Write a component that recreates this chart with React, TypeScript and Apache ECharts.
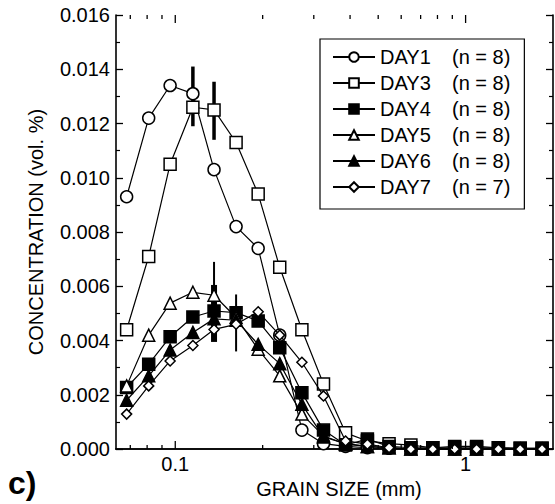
import React, { useEffect, useRef } from "react";
import * as echarts from "echarts";

const FONT = "'Liberation Sans', Arial, Helvetica, sans-serif";

// grain size class midpoints (mm), quarter-phi bins
const grainSizes = [0.068, 0.081, 0.096, 0.115, 0.136, 0.162, 0.193, 0.229, 0.273, 0.324, 0.386, 0.459, 0.545, 0.648, 0.771, 0.917, 1.091, 1.297, 1.542, 1.834];

const seriesNames = ["DAY1", "DAY3", "DAY4", "DAY5", "DAY6", "DAY7"];
const sampleCounts = [8, 8, 8, 8, 8, 7];

const day1 = [0.0093, 0.0122, 0.0134, 0.0131, 0.0103, 0.0082, 0.0074, 0.0042, 0.0007, 0.0002, 0.0001, 0.00005, 0.00003, 0, 0, 0, 0, 0, 0, 0];
const day3 = [0.0044, 0.0071, 0.0105, 0.0126, 0.0125, 0.0113, 0.0094, 0.0067, 0.0044, 0.0024, 0.0006, 0.0003, 0.0002, 0.00015, 0.00005, 0.0001, 0.0001, 0.00005, 0.00003, 0.00003];
const day4 = [0.00227, 0.00313, 0.00414, 0.00487, 0.00509, 0.00503, 0.00472, 0.00374, 0.00208, 0.0007, 0.00015, 0.00037, 0.0001, 0.00005, 0.00005, 0.00005, 0.00005, 0.00005, 0.00003, 0.00003];
const day5 = [0.00233, 0.0042, 0.00538, 0.00578, 0.00567, 0.00485, 0.00368, 0.0027, 0.00129, 0.00049, 0.00018, 0.0001, 0.00005, 0, 0, 0, 0, 0, 0, 0];
const day6 = [0.0018, 0.0027, 0.00365, 0.0043, 0.0048, 0.00475, 0.00386, 0.00315, 0.00165, 0.00045, 0.0002, 0.0001, 0.00005, 0, 0, 0, 0, 0, 0, 0];
const day7 = [0.00129, 0.00233, 0.00325, 0.00382, 0.00441, 0.0046, 0.00506, 0.0042, 0.0032, 0.00196, 0.0003, 0.00018, 0.00005, 0, 0, 0, 0, 0, 0, 0];

// error bars: [bin index, centre, half range]
const errorBarsThin = [[4, 0.0056, 0.0013], [5, 0.00465, 0.00105]];
const errorBarsMedium = [[3, 0.0130, 0.0011], [4, 0.01247, 0.00107]];
const errorBarsThick = [[4, 0.0050, 0.00105]];

const xMajorTicks = [0.1, 1];
const xMinorTicks = [0.07, 0.08, 0.09, 0.2, 0.3, 0.4, 0.5, 0.6, 0.7, 0.8, 0.9];

const X_MIN = 0.0625;
const X_MAX = 2;
const Y_MIN = 0;
const Y_MAX = 0.016;

const seriesValues = [day1, day3, day4, day5, day6, day7];
const symbols = ["circle", "rect", "rect", "triangle", "triangle", "diamond"];
const fills = ["#fff", "#fff", "#000", "#fff", "#000", "#fff"];
const sizes = [12, 12, 12, 12, 12, 10];

function errorBarSeries(bars: number[][], w: number) {
  return {
    type: "custom",
    silent: true,
    clip: false,
    z: 1,
    data: bars.map(([k, c, h]) => [grainSizes[k], c - h, c + h]),
    encode: { x: 0, y: [1, 2] },
    renderItem: (params: any, api: any) => {
      const x = api.value(0);
      const lo = api.value(1);
      const hi = api.value(2);
      const p1 = api.coord([x, hi]);
      const p2 = api.coord([x, lo]);
      return {
        type: "rect",
        shape: { x: p1[0] - w / 2, y: p1[1], width: w, height: p2[1] - p1[1] },
        style: { fill: "#000" },
      };
    },
  };
}

function tickSeries(values: number[], len: number) {
  return {
    type: "custom",
    silent: true,
    clip: false,
    z: 5,
    data: values.map((v) => [v, Y_MIN]),
    encode: { x: 0, y: 1 },
    renderItem: (params: any, api: any) => {
      const v = api.value(0);
      const b = api.coord([v, Y_MIN]);
      const t = api.coord([v, Y_MAX]);
      return {
        type: "group",
        children: [
          { type: "line", shape: { x1: b[0], y1: b[1], x2: b[0], y2: b[1] - len }, style: { stroke: "#000", lineWidth: 1.3 } },
          { type: "line", shape: { x1: t[0], y1: t[1], x2: t[0], y2: t[1] + len }, style: { stroke: "#000", lineWidth: 1.3 } },
        ],
      };
    },
  };
}

export default function App() {
  const ref = useRef<HTMLDivElement>(null);
  useEffect(() => {
    if (!ref.current) return;
    const chart = echarts.init(ref.current, undefined, { renderer: "svg" });
    const lineSeries = seriesNames.map((name, i) => ({
      name,
      type: "line",
      data: grainSizes.map((x, j) => [x, seriesValues[i][j]]),
      symbol: symbols[i],
      symbolSize: sizes[i],
      showAllSymbol: true,
      itemStyle: { color: fills[i], borderColor: "#000", borderWidth: 1.5 },
      lineStyle: { color: "#000", width: 1.2 },
      emphasis: { disabled: true },
      z: 3 + i * 0.01,
    }));
    const option: any = {
      animation: false,
      backgroundColor: "#fff",
      textStyle: { fontFamily: FONT },
      grid: { left: 116, right: 2, top: 15, bottom: 54, containLabel: false },
      legend: {
        orient: "vertical",
        left: 320,
        top: 39,
        data: seriesNames,
        itemWidth: 42,
        itemHeight: 12,
        itemGap: 6,
        padding: [8, 14, 12, 12],
        borderColor: "#000",
        borderWidth: 1.2,
        backgroundColor: "#fff",
        selectedMode: false,
        textStyle: {
          fontFamily: FONT,
          fontSize: 20,
          color: "#000",
          rich: {
            a: { width: 72, fontSize: 20, fontFamily: FONT, color: "#000", lineHeight: 20 },
            b: { fontSize: 20, fontFamily: FONT, color: "#000", lineHeight: 20 },
          },
        },
        formatter: (name: string) => {
          const idx = seriesNames.indexOf(name);
          return `{a|${name}}{b|(n = ${sampleCounts[idx]})}`;
        },
      },
      xAxis: [
        {
          type: "log",
          logBase: 10,
          min: X_MIN,
          max: X_MAX,
          position: "bottom",
          name: "GRAIN SIZE (mm)",
          nameLocation: "middle",
          nameGap: 26,
          nameTextStyle: { fontFamily: FONT, fontSize: 20, color: "#000", padding: [0, 0, 0, 9] },
          axisLine: { show: true, lineStyle: { color: "#000", width: 1.6 } },
          axisTick: { show: false },
          minorTick: { show: false },
          splitLine: { show: false },
          axisLabel: {
            fontFamily: FONT,
            fontSize: 20,
            color: "#000",
            margin: 5,
            showMinLabel: false,
            showMaxLabel: false,
            formatter: (v: number) => {
              for (const t of xMajorTicks) {
                if (Math.abs(v - t) / t < 1e-6) return String(t);
              }
              return "";
            },
          },
        },
        {
          type: "log",
          logBase: 10,
          min: X_MIN,
          max: X_MAX,
          position: "top",
          axisLine: { show: true, lineStyle: { color: "#000", width: 1.6 } },
          axisTick: { show: false },
          axisLabel: { show: false },
          splitLine: { show: false },
        },
      ],
      yAxis: [
        {
          type: "value",
          min: Y_MIN,
          max: Y_MAX,
          interval: 0.002,
          position: "left",
          name: "CONCENTRATION (vol. %)",
          nameLocation: "middle",
          nameGap: 70,
          nameTextStyle: { fontFamily: FONT, fontSize: 20, color: "#000" },
          axisLine: { show: true, lineStyle: { color: "#000", width: 1.6 } },
          axisTick: { show: true, inside: true, length: 7, lineStyle: { color: "#000", width: 1.3 } },
          minorTick: { show: true, splitNumber: 2, length: 4, lineStyle: { color: "#000", width: 1.2 } },
          splitLine: { show: false },
          axisLabel: {
            fontFamily: FONT,
            fontSize: 20,
            color: "#000",
            margin: 6,
            formatter: (v: number) => v.toFixed(3),
          },
        },
        {
          type: "value",
          min: Y_MIN,
          max: Y_MAX,
          interval: 0.002,
          position: "right",
          axisLine: { show: true, lineStyle: { color: "#000", width: 1.6 } },
          axisTick: { show: true, inside: true, length: 7, lineStyle: { color: "#000", width: 1.3 } },
          minorTick: { show: true, splitNumber: 2, length: 4, lineStyle: { color: "#000", width: 1.2 } },
          splitLine: { show: false },
          axisLabel: { show: false },
        },
      ],
      graphic: [
        {
          type: "text",
          left: 8,
          top: 467,
          style: { text: "c)", font: `bold 32px ${FONT}`, fill: "#000" },
        },
      ],
      series: [
        errorBarSeries(errorBarsThin, 2),
        errorBarSeries(errorBarsMedium, 3.5),
        errorBarSeries(errorBarsThick, 6),
        ...lineSeries,
        tickSeries(xMajorTicks, 8),
        tickSeries(xMinorTicks, 4),
      ],
    };
    chart.setOption(option);
    return () => chart.dispose();
  }, []);
  return (
    <div
      ref={ref}
      style={{ position: "fixed", left: 0, top: 0, width: 555, height: 504, background: "#fff" }}
    />
  );
}
